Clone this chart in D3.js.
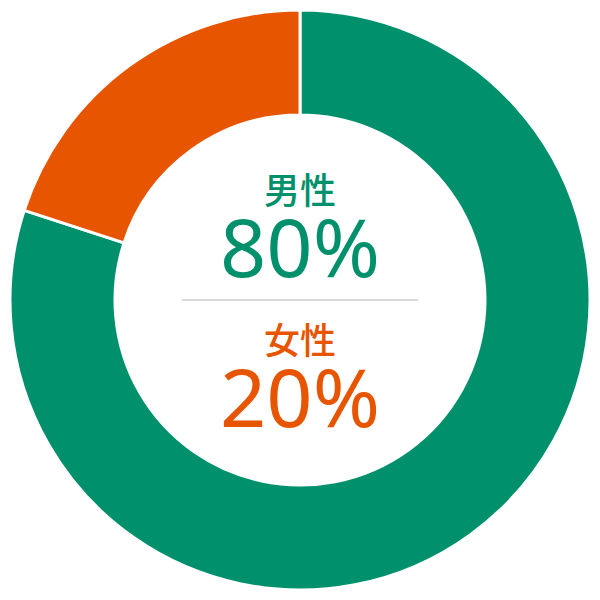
<!DOCTYPE html>
<html>
<head>
<meta charset="utf-8">
<script src="https://cdn.jsdelivr.net/npm/d3@7"></script>
<style>
  body { margin: 0; background: #fff; }
  svg { display: block; }
</style>
</head>
<body>
<svg id="chart"></svg>
<script>
// data
var labels = ["男性", "女性"];
var values = [80, 20];
var colours = ["#00916c", "#e85500"];

var wtot = 600,
    htot = 600;

var outerRadius = 290,
    innerRadius = 185;

const svg = d3.select("#chart")
    .attr("width", wtot)
    .attr("height", htot)
    .attr("viewBox", [-wtot / 2, -htot / 2, wtot, htot]);

const arcs = d3.pie().sort(null).value(d => d)(values);
const arc = d3.arc().innerRadius(innerRadius).outerRadius(outerRadius);

svg.append("g")
    .attr("stroke", "white")
    .attr("stroke-width", 3)
    .selectAll("path")
    .data(arcs)
    .join("path")
    .attr("fill", (d, i) => colours[i])
    .attr("d", arc);

// divider line in the middle
svg.append("line")
    .attr("x1", -118)
    .attr("x2", 118)
    .attr("y1", 0)
    .attr("y2", 0)
    .attr("stroke", "#cccccc")
    .attr("stroke-width", 1.5);

// centre labels: name on top, percentage below
var blockY = [-112, 38];

labels.forEach((name, i) => {
    svg.append("text")
        .attr("x", 0)
        .attr("y", blockY[i])
        .attr("text-anchor", "middle")
        .attr("dominant-baseline", "central")
        .attr("font-family", "'Noto Sans CJK JP', 'Noto Sans', sans-serif")
        .attr("font-weight", 500)
        .attr("font-size", 36)
        .attr("fill", colours[i])
        .text(name);

    svg.append("text")
        .attr("x", 0)
        .attr("y", blockY[i] + 89)
        .attr("text-anchor", "middle")
        .attr("font-family", "'Noto Sans', sans-serif")
        .attr("font-size", 81)
        .attr("fill", colours[i])
        .text(values[i] + "%");
});
</script>
</body>
</html>
